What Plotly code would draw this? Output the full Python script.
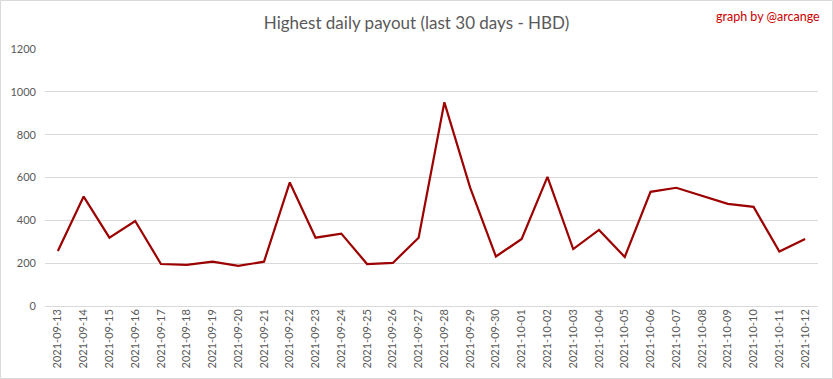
import plotly.graph_objects as go

dates = ["2021-09-13","2021-09-14","2021-09-15","2021-09-16","2021-09-17","2021-09-18",
         "2021-09-19","2021-09-20","2021-09-21","2021-09-22","2021-09-23","2021-09-24",
         "2021-09-25","2021-09-26","2021-09-27","2021-09-28","2021-09-29","2021-09-30",
         "2021-10-01","2021-10-02","2021-10-03","2021-10-04","2021-10-05","2021-10-06",
         "2021-10-07","2021-10-08","2021-10-09","2021-10-10","2021-10-11","2021-10-12"]
payout = [257, 511, 319, 397, 196, 192, 207, 187, 207, 577, 319, 338, 196, 201, 319,
          951, 553, 231, 313, 603, 266, 355, 229, 533, 552, 514, 477, 463, 254, 313]
y_ticks = [0, 200, 400, 600, 800, 1000, 1200]

W, H = 833, 379
ml, mr, mt, mb = 45, 15, 49, 73

fig = go.Figure(go.Scatter(x=dates, y=payout, mode="lines",
                           line=dict(color="#9c0000", width=2.2)))

pw = W - ml - mr
ph = H - mt - mb
fig.update_layout(
    width=W, height=H,
    margin=dict(l=ml, r=mr, t=mt, b=mb, autoexpand=False),
    paper_bgcolor="white", plot_bgcolor="white",
    showlegend=False,
    font=dict(family="Lato, Liberation Sans, sans-serif", color="#595959"),
    title=dict(text="Highest daily payout (last 30 days - HBD)", x=0.5, xanchor="center",
               xref="container", y=1 - 23 / H, yanchor="middle", automargin=False,
               font=dict(size=17, color="#595959")),
    xaxis=dict(type="category", tickangle=-90, tickfont=dict(size=11, color="#595959"),
               showgrid=False, showline=False, ticks="", automargin=False,
               range=[-0.5, len(dates) - 0.5]),
    yaxis=dict(range=[0, 1200], tickvals=y_ticks, tickfont=dict(size=11, color="#595959"),
               showgrid=True, gridcolor="#d9d9d9", gridwidth=1, zeroline=True,
               zerolinecolor="#d9d9d9", zerolinewidth=1, showline=False, ticks="",
               automargin=False, ticklabelstandoff=8),
    annotations=[dict(text="graph by @arcange", xref="paper", yref="paper",
                      x=(822 - ml) / pw, y=(H - mb - 16) / ph, xanchor="right", yanchor="middle",
                      showarrow=False, font=dict(size=12.5, color="#cc0000",
                                                 family="Lato, Liberation Sans, sans-serif"))],
    shapes=[dict(type="rect", xref="paper", yref="paper",
                 x0=(0.5 - ml) / pw, x1=(W - 0.5 - ml) / pw,
                 y0=-(mb - 0.5) / ph, y1=(H - mb - 0.5) / ph,
                 line=dict(color="#d9d9d9", width=1), fillcolor="rgba(0,0,0,0)", layer="below")],
)

fig.write_html("out.html", config={"displayModeBar": False},
               post_script="document.body.style.margin='0';document.body.style.padding='0';"
                           "document.body.style.overflow='hidden';")
